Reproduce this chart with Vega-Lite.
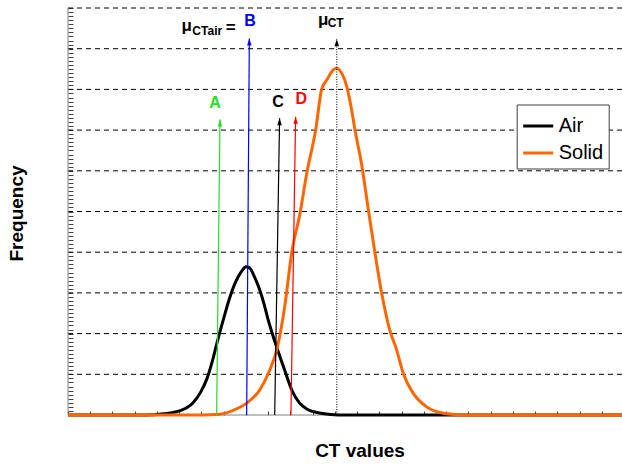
{
  "$schema": "https://vega.github.io/schema/vega-lite/v6.json",
  "autosize": "none",
  "width": 554,
  "height": 407,
  "padding": {"left": 68, "top": 8, "right": 0, "bottom": 50},
  "background": "white",
  "config": {
    "view": {"stroke": null},
    "font": "Liberation Sans",
    "axis": {
      "labels": false, "grid": false, "domain": false, "tickColor": "#404040", "tickWidth": 1,
      "titleFontSize": 19, "titleFontWeight": "bold", "titleFont": "Liberation Sans", "titleColor": "#000000",
      "titleBaseline": "alphabetic"
    },
    "axisX": {"tickCount": 25, "tickSize": 4, "offset": -4, "titleX": 291.5, "titleY": 45.7},
    "axisY": {"tickCount": 100, "tickSize": 5, "offset": -5, "titleX": -50.3, "titleY": 205, "titleAngle": -90}
  },
  "datasets": {
    "curves": [
      {"series": "Air", "x": 0, "y": 0}, {"series": "Air", "x": 3.5, "y": 0}, {"series": "Air", "x": 4.3, "y": 0.3},
      {"series": "Air", "x": 5.0, "y": 1.0}, {"series": "Air", "x": 5.6, "y": 2.9}, {"series": "Air", "x": 5.95, "y": 5.5},
      {"series": "Air", "x": 6.25, "y": 9.0}, {"series": "Air", "x": 6.5, "y": 13.5}, {"series": "Air", "x": 6.7, "y": 17.8},
      {"series": "Air", "x": 7.0, "y": 23.8}, {"series": "Air", "x": 7.25, "y": 28.5}, {"series": "Air", "x": 7.5, "y": 32.3},
      {"series": "Air", "x": 7.8, "y": 35.3}, {"series": "Air", "x": 8.0, "y": 36.4}, {"series": "Air", "x": 8.15, "y": 36.2},
      {"series": "Air", "x": 8.35, "y": 34.3}, {"series": "Air", "x": 8.6, "y": 31.0}, {"series": "Air", "x": 8.8, "y": 27.5},
      {"series": "Air", "x": 9.0, "y": 23.3}, {"series": "Air", "x": 9.3, "y": 18.0}, {"series": "Air", "x": 9.7, "y": 11.6},
      {"series": "Air", "x": 10.1, "y": 5.6}, {"series": "Air", "x": 10.4, "y": 3.0}, {"series": "Air", "x": 10.75, "y": 1.4},
      {"series": "Air", "x": 11.3, "y": 0.5}, {"series": "Air", "x": 11.8, "y": 0.15}, {"series": "Air", "x": 12.5, "y": 0},
      {"series": "Air", "x": 24.9, "y": 0},
      {"series": "Solid", "x": 0, "y": 0}, {"series": "Solid", "x": 6.0, "y": 0}, {"series": "Solid", "x": 6.8, "y": 0.2},
      {"series": "Solid", "x": 7.4, "y": 1.1}, {"series": "Solid", "x": 8.0, "y": 2.8}, {"series": "Solid", "x": 8.6, "y": 6.0},
      {"series": "Solid", "x": 9.05, "y": 10.8}, {"series": "Solid", "x": 9.38, "y": 16.0}, {"series": "Solid", "x": 9.75, "y": 27.0},
      {"series": "Solid", "x": 10.05, "y": 39.7}, {"series": "Solid", "x": 10.43, "y": 49.6}, {"series": "Solid", "x": 10.73, "y": 59.4},
      {"series": "Solid", "x": 11.13, "y": 70.0}, {"series": "Solid", "x": 11.4, "y": 80.0}, {"series": "Solid", "x": 11.63, "y": 82.3},
      {"series": "Solid", "x": 11.92, "y": 84.8}, {"series": "Solid", "x": 12.07, "y": 85.2}, {"series": "Solid", "x": 12.3, "y": 84.0},
      {"series": "Solid", "x": 12.53, "y": 80.7}, {"series": "Solid", "x": 12.75, "y": 74.9}, {"series": "Solid", "x": 12.9, "y": 70.0},
      {"series": "Solid", "x": 13.2, "y": 61.5}, {"series": "Solid", "x": 13.5, "y": 50.4}, {"series": "Solid", "x": 13.8, "y": 39.7},
      {"series": "Solid", "x": 14.1, "y": 29.9}, {"series": "Solid", "x": 14.44, "y": 21.3}, {"series": "Solid", "x": 14.77, "y": 16.0},
      {"series": "Solid", "x": 15.07, "y": 10.2}, {"series": "Solid", "x": 15.52, "y": 5.3}, {"series": "Solid", "x": 16.12, "y": 2.0},
      {"series": "Solid", "x": 16.72, "y": 0.6}, {"series": "Solid", "x": 17.32, "y": 0.15}, {"series": "Solid", "x": 18.0, "y": 0},
      {"series": "Solid", "x": 24.9, "y": 0}
    ],
    "gridlines": [
      {"y": 10}, {"y": 20}, {"y": 30}, {"y": 40}, {"y": 50},
      {"y": 60}, {"y": 70}, {"y": 80}, {"y": 90}, {"y": 100}
    ],
    "arrows": [
      {"name": "A", "x": 6.68, "x2": 6.83, "y": 0, "y2": 72.6},
      {"name": "B", "x": 8.03, "x2": 8.15, "y": 0, "y2": 92.5},
      {"name": "C", "x": 9.29, "x2": 9.51, "y": 0, "y2": 72.9},
      {"name": "D", "x": 10.02, "x2": 10.23, "y": 0, "y2": 73.3},
      {"name": "muCT", "x": 12.08, "x2": 12.08, "y": 0, "y2": 92.3}
    ],
    "labels": [
      {"name": "A", "text": "A", "x": 6.61, "y": 75.4},
      {"name": "B", "text": "B", "x": 8.18, "y": 95.5},
      {"name": "C", "text": "C", "x": 9.44, "y": 75.75},
      {"name": "D", "text": "D", "x": 10.49, "y": 76.4}
    ],
    "mu": [
      {"text": "μ", "x": 5.1, "y": 94.4},
      {"text": "μ", "x": 11.24, "y": 95.8}
    ],
    "subscripts": [
      {"text": "CTair", "x": 5.59, "y": 93.44},
      {"text": "CT", "x": 11.67, "y": 95.26}
    ],
    "equals": [
      {"text": "=", "x": 7.09, "y": 93.9}
    ]
  },
  "layer": [
    {
      "data": {"name": "gridlines"},
      "mark": {"type": "rule", "color": "#000000", "strokeWidth": 1, "strokeDash": [5, 4]},
      "encoding": {
        "y": {"field": "y", "type": "quantitative", "title": "Frequency", "scale": {"domain": [0, 100], "nice": false}}
      }
    },
    {
      "data": {"values": [{"edge": 0}]},
      "mark": {"type": "rule", "color": "#808080", "strokeWidth": 1},
      "encoding": {
        "x": {"field": "edge", "type": "quantitative", "title": "CT values", "scale": {"domain": [0, 24.9], "nice": false, "zero": false}}
      }
    },
    {
      "data": {"values": [{"edge": 0}]},
      "mark": {"type": "rule", "color": "#808080", "strokeWidth": 1},
      "encoding": {
        "y": {"field": "edge", "type": "quantitative", "title": "Frequency"}
      }
    },
    {
      "data": {"name": "curves"},
      "mark": {"type": "line", "strokeWidth": 3, "interpolate": "monotone"},
      "encoding": {
        "x": {"field": "x", "type": "quantitative", "title": "CT values"},
        "y": {"field": "y", "type": "quantitative", "title": "Frequency"},
        "color": {
          "field": "series", "type": "nominal",
          "scale": {"domain": ["Air", "Solid"], "range": ["#000000", "#ff6600"]},
          "legend": {
            "title": null, "orient": "none", "legendX": 448.7, "legendY": 96.5,
            "symbolType": "stroke", "symbolSize": 900, "symbolStrokeWidth": 3,
            "labelFontSize": 20, "labelFont": "Liberation Sans", "labelColor": "#000000", "labelOffset": 4,
            "strokeColor": "#404040", "fillColor": "#ffffff", "padding": 5, "rowPadding": 0
          }
        }
      }
    },
    {
      "data": {"name": "arrows"},
      "transform": [{"filter": "datum.name === 'A'"}],
      "mark": {"type": "rule", "color": "#22e022", "strokeWidth": 1.2},
      "encoding": {
        "x": {"field": "x", "type": "quantitative", "title": "CT values"},
        "x2": {"field": "x2"},
        "y": {"field": "y", "type": "quantitative", "title": "Frequency"},
        "y2": {"field": "y2"}
      }
    },
    {
      "data": {"name": "arrows"},
      "transform": [{"filter": "datum.name === 'B'"}],
      "mark": {"type": "rule", "color": "#0000ff", "strokeWidth": 1.2},
      "encoding": {
        "x": {"field": "x", "type": "quantitative", "title": "CT values"},
        "x2": {"field": "x2"},
        "y": {"field": "y", "type": "quantitative", "title": "Frequency"},
        "y2": {"field": "y2"}
      }
    },
    {
      "data": {"name": "arrows"},
      "transform": [{"filter": "datum.name === 'C'"}],
      "mark": {"type": "rule", "color": "#000000", "strokeWidth": 1.2},
      "encoding": {
        "x": {"field": "x", "type": "quantitative", "title": "CT values"},
        "x2": {"field": "x2"},
        "y": {"field": "y", "type": "quantitative", "title": "Frequency"},
        "y2": {"field": "y2"}
      }
    },
    {
      "data": {"name": "arrows"},
      "transform": [{"filter": "datum.name === 'D'"}],
      "mark": {"type": "rule", "color": "#ff0000", "strokeWidth": 1.2},
      "encoding": {
        "x": {"field": "x", "type": "quantitative", "title": "CT values"},
        "x2": {"field": "x2"},
        "y": {"field": "y", "type": "quantitative", "title": "Frequency"},
        "y2": {"field": "y2"}
      }
    },
    {
      "data": {"name": "arrows"},
      "transform": [{"filter": "datum.name === 'muCT'"}],
      "mark": {"type": "rule", "color": "#000000", "strokeWidth": 1, "strokeDash": [1, 1.5]},
      "encoding": {
        "x": {"field": "x", "type": "quantitative", "title": "CT values"},
        "x2": {"field": "x2"},
        "y": {"field": "y", "type": "quantitative", "title": "Frequency"},
        "y2": {"field": "y2"}
      }
    },
    {
      "data": {"name": "arrows"},
      "mark": {"type": "point", "filled": true, "opacity": 1, "size": 25, "shape": "M0,-1.4L0.9,1.4L-0.9,1.4Z", "yOffset": 3.5, "strokeWidth": 0},
      "encoding": {
        "x": {"field": "x2", "type": "quantitative", "title": "CT values"},
        "y": {"field": "y2", "type": "quantitative", "title": "Frequency"},
        "fill": {"field": "name", "type": "nominal", "legend": null,
          "scale": {"domain": ["A", "B", "C", "D", "muCT"], "range": ["#22e022", "#0000ff", "#000000", "#ff0000", "#000000"]}}
      }
    },
    {
      "data": {"name": "labels"},
      "mark": {"type": "text", "fontSize": 16, "fontWeight": "bold", "font": "Liberation Sans", "align": "center", "baseline": "alphabetic"},
      "encoding": {
        "x": {"field": "x", "type": "quantitative", "title": "CT values"},
        "y": {"field": "y", "type": "quantitative", "title": "Frequency"},
        "text": {"field": "text"},
        "fill": {"field": "name", "type": "nominal", "legend": null}
      }
    },
    {
      "data": {"name": "mu"},
      "mark": {"type": "text", "fontSize": 17, "fontWeight": "bold", "font": "Liberation Sans", "align": "left", "baseline": "alphabetic", "color": "#000000"},
      "encoding": {
        "x": {"field": "x", "type": "quantitative", "title": "CT values"},
        "y": {"field": "y", "type": "quantitative", "title": "Frequency"},
        "text": {"field": "text"}
      }
    },
    {
      "data": {"name": "subscripts"},
      "mark": {"type": "text", "fontSize": 12, "fontWeight": "bold", "font": "Liberation Sans", "align": "left", "baseline": "alphabetic", "color": "#000000"},
      "encoding": {
        "x": {"field": "x", "type": "quantitative", "title": "CT values"},
        "y": {"field": "y", "type": "quantitative", "title": "Frequency"},
        "text": {"field": "text"}
      }
    },
    {
      "data": {"name": "equals"},
      "mark": {"type": "text", "fontSize": 17, "fontWeight": "bold", "font": "Liberation Sans", "align": "left", "baseline": "alphabetic", "color": "#000000"},
      "encoding": {
        "x": {"field": "x", "type": "quantitative", "title": "CT values"},
        "y": {"field": "y", "type": "quantitative", "title": "Frequency"},
        "text": {"field": "text"}
      }
    }
  ]
}
